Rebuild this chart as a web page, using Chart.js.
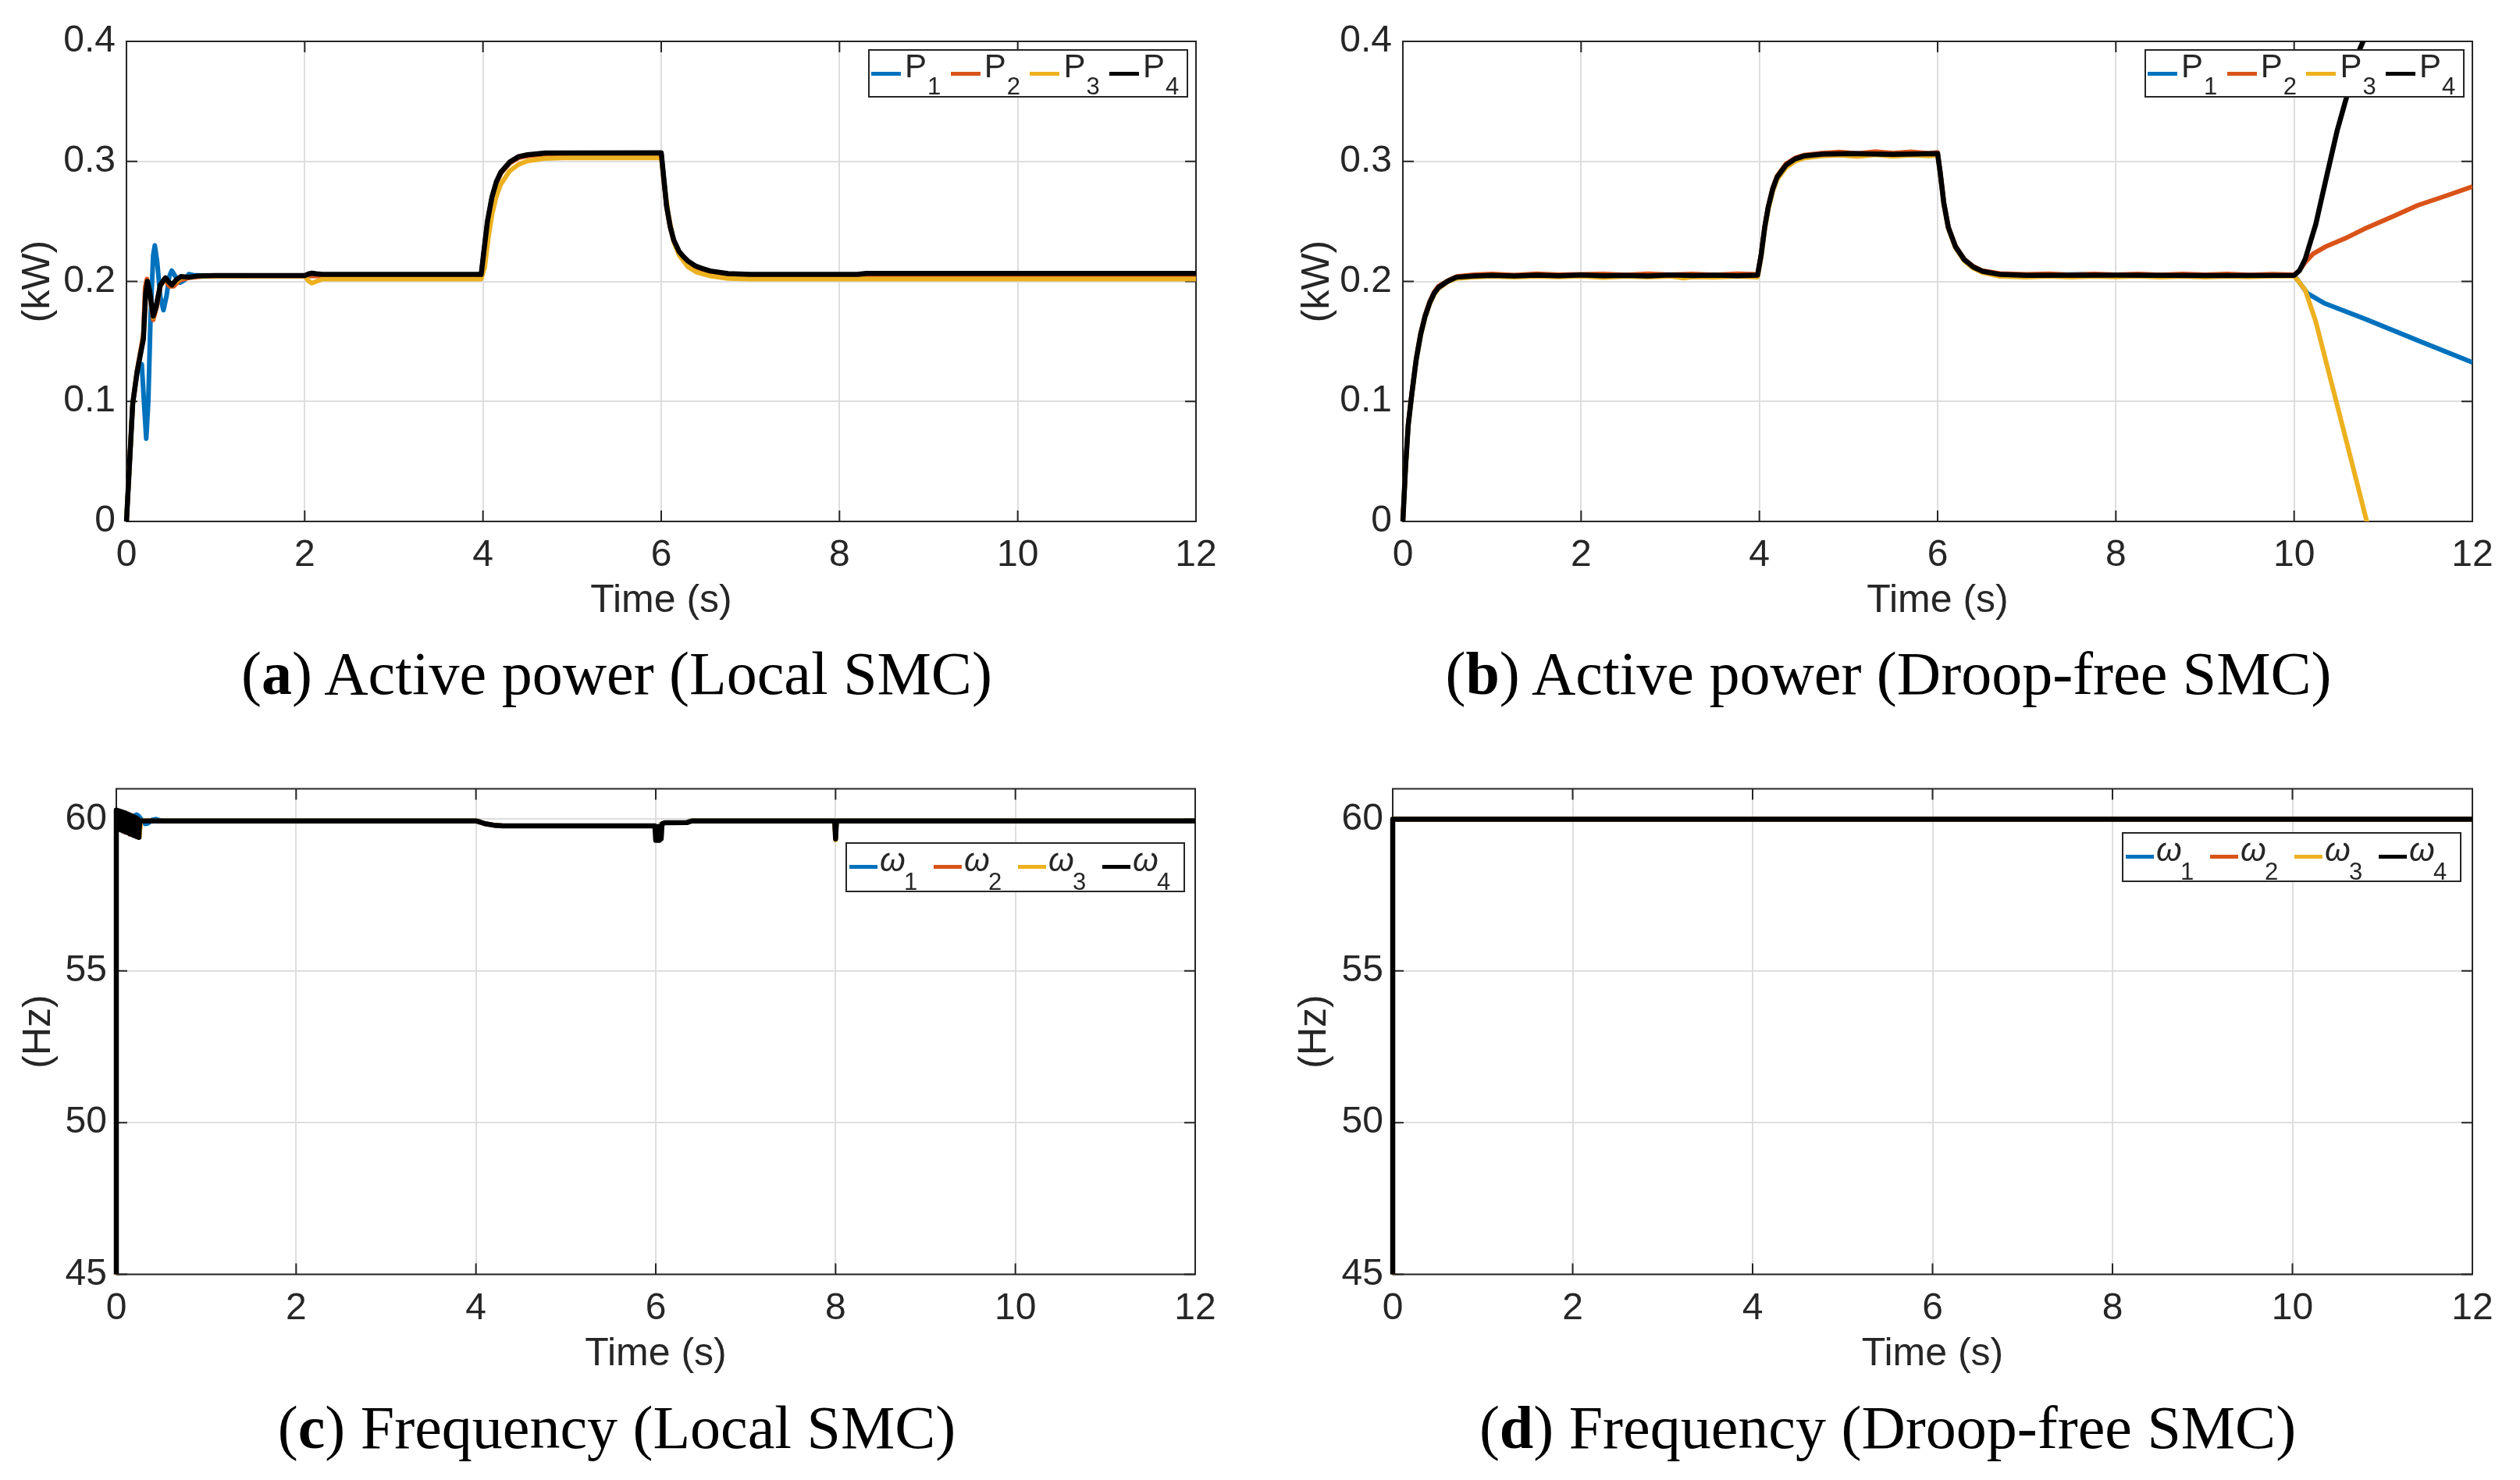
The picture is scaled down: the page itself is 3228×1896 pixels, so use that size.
<!DOCTYPE html>
<html><head><meta charset="utf-8">
<script src="https://cdn.jsdelivr.net/npm/chart.js@4.4.1/dist/chart.umd.min.js"></script>
<style>
html,body{margin:0;padding:0;background:#fff;}
body{width:3228px;height:1896px;position:relative;overflow:hidden;font-family:"Liberation Sans",Arial,sans-serif;}
canvas{position:absolute;}
.cap{position:absolute;width:1600px;text-align:center;font-family:"Liberation Serif","Times New Roman",serif;font-size:78px;line-height:78px;color:#000;white-space:nowrap;}
.leg{position:absolute;border:2px solid #262626;background:#fff;box-sizing:border-box;}
.leg .ln{position:absolute;height:5px;}
.leg .tx{position:absolute;font-size:42px;line-height:42px;color:#262626;white-space:nowrap;}
.leg .sb{position:absolute;font-size:31px;line-height:31px;color:#262626;white-space:nowrap;}
</style></head><body>
<canvas id="ca" width="1614" height="820" style="left:0;top:0"></canvas>
<canvas id="cb" width="1614" height="820" style="left:1614px;top:0"></canvas>
<canvas id="cc" width="1614" height="820" style="left:0;top:948px"></canvas>
<canvas id="cd" width="1614" height="820" style="left:1614px;top:948px"></canvas>
<div class="cap" style="left:-10px;top:824px">(<b>a</b>) Active power (Local SMC)</div>
<div class="cap" style="left:1619px;top:824px">(<b>b</b>) Active power (Droop-free SMC)</div>
<div class="cap" style="left:-10px;top:1790px">(<b>c</b>) Frequency (Local SMC)</div>
<div class="cap" style="left:1618px;top:1790px">(<b>d</b>) Frequency (Droop-free SMC)</div>
<script>
// ---------- tick labels ----------
const xTicks = [0, 2, 4, 6, 8, 10, 12];
const xTickLabels = ['0', '2', '4', '6', '8', '10', '12'];
const yTicksP = [0, 0.1, 0.2, 0.3, 0.4];
const yTickLabelsP = ['0', '0.1', '0.2', '0.3', '0.4'];
const yTicksF = [45, 50, 55, 60];
const yTickLabelsF = ['45', '50', '55', '60'];
const legendP = [['P', '1'], ['P', '2'], ['P', '3'], ['P', '4']];
const legendW = [['\u03c9', '1'], ['\u03c9', '2'], ['\u03c9', '3'], ['\u03c9', '4']];

// ---------- (a) Active power, Local SMC  [t (s), P (kW)] ----------
const P1a = [[0,0],[0.07,0.098],[0.12,0.124],[0.172,0.131],[0.2,0.095],[0.222,0.069],[0.245,0.1],[0.27,0.17],[0.3,0.222],[0.318,0.23],[0.345,0.216],[0.38,0.187],[0.415,0.176],[0.45,0.188],[0.48,0.204],[0.508,0.209],[0.55,0.204],[0.605,0.199],[0.65,0.201],[0.7,0.206],[0.75,0.2052],[0.9,0.2047],[2.0,0.2047],[2.1,0.2048],[3.98,0.2052],[4.01,0.2245],[4.05,0.2495],[4.1,0.2695],[4.15,0.2825],[4.2,0.2905],[4.3,0.299],[4.4,0.3035],[4.5,0.305],[4.7,0.3065],[6.0,0.3067],[6.03,0.2845],[6.06,0.2625],[6.1,0.2455],[6.14,0.2341],[6.2,0.2245],[6.25,0.2201],[6.3,0.2165],[6.38,0.2125],[6.45,0.2105],[6.55,0.2082],[6.75,0.206],[7.0,0.2053],[12,0.2055]];
const P2a = [[0,0],[0.07,0.098],[0.12,0.126],[0.19,0.156],[0.21,0.195],[0.23,0.202],[0.26,0.19],[0.3,0.168],[0.34,0.179],[0.38,0.196],[0.43,0.202],[0.48,0.196],[0.53,0.196],[0.6,0.201],[0.7,0.203],[0.9,0.2045],[2.0,0.2047],[2.1,0.2045],[3.98,0.2046],[4.01,0.224],[4.05,0.249],[4.1,0.269],[4.15,0.282],[4.2,0.29],[4.3,0.2985],[4.4,0.303],[4.5,0.3045],[4.7,0.306],[6.0,0.3062],[6.03,0.284],[6.06,0.262],[6.1,0.245],[6.14,0.2336],[6.2,0.224],[6.25,0.2196],[6.3,0.216],[6.38,0.212],[6.45,0.21],[6.55,0.2077],[6.75,0.2055],[7.0,0.2046],[12,0.2048]];
const P3a = [[0,0],[0.07,0.098],[0.12,0.125],[0.19,0.153],[0.215,0.19],[0.235,0.2],[0.26,0.191],[0.3,0.17],[0.33,0.178],[0.38,0.197],[0.436,0.202],[0.51,0.197],[0.61,0.203],[0.8,0.2043],[2.0,0.2045],[2.04,0.2005],[2.08,0.1985],[2.13,0.2],[2.2,0.202],[3.98,0.202],[4.02,0.212],[4.06,0.236],[4.1,0.255],[4.15,0.271],[4.2,0.281],[4.3,0.292],[4.4,0.2975],[4.5,0.3003],[4.7,0.3025],[4.9,0.303],[6.0,0.303],[6.03,0.283],[6.08,0.256],[6.14,0.233],[6.2,0.222],[6.3,0.212],[6.4,0.2075],[6.55,0.2045],[6.75,0.2025],[7.0,0.202],[12,0.202]];
const P4a = [[0,0],[0.07,0.098],[0.12,0.125],[0.19,0.152],[0.215,0.19],[0.235,0.2],[0.26,0.192],[0.3,0.171],[0.33,0.178],[0.38,0.197],[0.436,0.203],[0.47,0.2],[0.51,0.197],[0.56,0.2015],[0.61,0.204],[0.7,0.2035],[0.8,0.2045],[1.0,0.2048],[2.0,0.2048],[2.04,0.2062],[2.08,0.2068],[2.13,0.2063],[2.2,0.2058],[3.98,0.2058],[4.01,0.225],[4.05,0.25],[4.1,0.27],[4.15,0.283],[4.2,0.291],[4.3,0.2995],[4.4,0.304],[4.5,0.3055],[4.7,0.307],[6.0,0.3072],[6.03,0.285],[6.06,0.263],[6.1,0.246],[6.14,0.2346],[6.2,0.225],[6.25,0.2206],[6.3,0.217],[6.38,0.213],[6.45,0.211],[6.55,0.2087],[6.75,0.2065],[7.0,0.2058],[8.2,0.2058],[8.3,0.2066],[12,0.2066]];

// ---------- (b) Active power, Droop-free SMC ----------
const P1b = [[0,0],[0.03,0.045],[0.06,0.08],[0.1,0.106],[0.15,0.135],[0.2,0.156],[0.25,0.171],[0.3,0.182],[0.35,0.19],[0.4,0.195],[0.5,0.2],[0.6,0.2035],[0.8,0.2048],[1.0,0.2052],[1.5,0.2049],[2.0,0.2054],[2.5,0.2049],[3.0,0.2055],[3.5,0.2049],[3.98,0.2053],[4.02,0.2222],[4.06,0.2452],[4.1,0.2622],[4.15,0.2772],[4.2,0.2872],[4.3,0.2972],[4.4,0.3022],[4.5,0.3048],[4.7,0.3064],[5.0,0.3068],[5.5,0.306],[6.0,0.3066],[6.03,0.29],[6.07,0.265],[6.12,0.245],[6.2,0.229],[6.3,0.218],[6.4,0.212],[6.5,0.2085],[6.7,0.206],[7.0,0.2052],[7.6,0.2058],[8.0,0.2052],[9.0,0.205],[10.0,0.2052],[10.05,0.2],[10.15,0.19],[10.334,0.182],[10.786,0.169],[11.387,0.1508],[12,0.1325]];
const P2b = [[0,0],[0.03,0.046],[0.06,0.081],[0.1,0.107],[0.15,0.136],[0.2,0.157],[0.25,0.172],[0.3,0.183],[0.35,0.191],[0.4,0.196],[0.5,0.2005],[0.6,0.204],[0.8,0.2055],[1.0,0.2062],[1.25,0.2052],[1.5,0.2063],[1.75,0.2055],[2.0,0.2058],[2.25,0.2062],[2.5,0.2053],[2.75,0.2064],[3.0,0.2055],[3.25,0.2062],[3.5,0.2054],[3.75,0.2063],[3.98,0.2058],[4.02,0.223],[4.06,0.246],[4.1,0.263],[4.15,0.278],[4.2,0.288],[4.3,0.298],[4.4,0.3028],[4.5,0.3052],[4.7,0.3068],[4.9,0.3078],[5.1,0.3065],[5.3,0.3082],[5.5,0.3068],[5.7,0.308],[5.9,0.3066],[6.0,0.3075],[6.03,0.2905],[6.07,0.2655],[6.12,0.2455],[6.2,0.2295],[6.3,0.2185],[6.4,0.2125],[6.5,0.209],[6.7,0.2065],[7.0,0.2058],[7.25,0.2063],[7.5,0.2054],[7.75,0.2062],[8.0,0.2056],[8.25,0.2061],[8.5,0.2053],[8.75,0.2062],[9.0,0.2055],[9.25,0.2061],[9.5,0.2054],[9.75,0.206],[10.0,0.2055],[10.06,0.209],[10.125,0.216],[10.21,0.2228],[10.363,0.2293],[10.6,0.2368],[10.786,0.2437],[11.1,0.2538],[11.387,0.2634],[11.7,0.2712],[12,0.279]];
const P3b = [[0,0],[0.03,0.044],[0.06,0.079],[0.1,0.105],[0.15,0.134],[0.2,0.155],[0.25,0.17],[0.3,0.181],[0.35,0.189],[0.4,0.194],[0.5,0.1995],[0.6,0.2025],[0.8,0.2035],[1.0,0.2042],[1.25,0.2035],[1.5,0.2043],[1.75,0.2038],[2.0,0.2044],[2.25,0.2032],[2.5,0.2042],[2.75,0.2036],[3.0,0.2043],[3.15,0.2028],[3.25,0.2038],[3.5,0.2034],[3.75,0.2042],[3.98,0.2036],[4.02,0.22],[4.06,0.243],[4.1,0.26],[4.15,0.275],[4.2,0.285],[4.3,0.295],[4.4,0.3],[4.5,0.3028],[4.7,0.3045],[4.9,0.3052],[5.1,0.304],[5.3,0.3055],[5.5,0.3042],[5.7,0.3052],[5.9,0.3045],[6.0,0.305],[6.03,0.289],[6.07,0.264],[6.12,0.244],[6.2,0.228],[6.3,0.217],[6.4,0.211],[6.5,0.2075],[6.7,0.2042],[7.0,0.2036],[7.25,0.2043],[7.5,0.2035],[7.75,0.2042],[8.0,0.2037],[8.25,0.2044],[8.5,0.2036],[8.75,0.2043],[9.0,0.2035],[9.25,0.2042],[9.5,0.2037],[9.75,0.2044],[10.0,0.2045],[10.05,0.2],[10.125,0.1927],[10.243,0.1665],[10.424,0.114],[10.604,0.0618],[10.815,0],[10.85,-0.01]];
const P4b = [[0,0],[0.03,0.045],[0.06,0.08],[0.1,0.106],[0.15,0.135],[0.2,0.156],[0.25,0.171],[0.3,0.182],[0.35,0.19],[0.4,0.195],[0.5,0.2],[0.6,0.2035],[0.8,0.2045],[1.0,0.205],[1.25,0.2046],[1.5,0.2052],[1.75,0.2047],[2.0,0.2053],[2.25,0.2047],[2.5,0.2051],[2.75,0.2046],[3.0,0.2053],[3.25,0.2048],[3.5,0.2052],[3.75,0.2047],[3.98,0.2052],[4.02,0.222],[4.06,0.245],[4.1,0.262],[4.15,0.277],[4.2,0.287],[4.3,0.297],[4.4,0.302],[4.5,0.3045],[4.7,0.306],[5.0,0.3065],[5.5,0.3058],[6.0,0.3065],[6.03,0.29],[6.07,0.265],[6.12,0.245],[6.2,0.229],[6.3,0.218],[6.4,0.212],[6.5,0.2085],[6.7,0.2058],[7.0,0.205],[8.0,0.2052],[9.0,0.2048],[10.0,0.205],[10.06,0.209],[10.125,0.2188],[10.243,0.2476],[10.363,0.287],[10.484,0.326],[10.604,0.3576],[10.695,0.3864],[10.786,0.402],[10.85,0.42]];

// ---------- (c) Frequency, Local SMC  [t (s), f (Hz)] ----------
const W1c = [[0,44],[0,60.25],[0.02,59.7],[0.05,60.2],[0.08,59.6],[0.11,60.15],[0.14,59.55],[0.17,60.08],[0.2,60.1],[0.225,60.15],[0.25,60.1],[0.28,59.98],[0.32,59.84],[0.35,59.86],[0.4,59.98],[0.44,60.0],[0.5,59.95],[0.55,59.94],[4.0,59.94],[4.1,59.85],[4.2,59.8],[4.3,59.78],[5.99,59.78],[6.01,59.4],[6.05,59.8],[6.1,59.88],[6.35,59.89],[6.4,59.94],[7.99,59.94],[8.0,59.45],[8.01,59.94],[12,59.94]];
const W2c = [[0,44],[0,60.28],[0.03,59.68],[0.06,60.22],[0.09,59.58],[0.12,60.16],[0.15,59.5],[0.18,60.08],[0.21,59.44],[0.24,60.0],[0.255,59.4],[0.27,59.94],[4.0,59.94],[4.1,59.85],[4.2,59.8],[4.3,59.78],[5.99,59.78],[6.02,59.35],[6.06,59.82],[6.1,59.88],[6.35,59.89],[6.4,59.94],[7.99,59.94],[8.0,59.4],[8.01,59.94],[12,59.94]];
const W3c = [[0,44],[0,60.27],[0.03,59.7],[0.06,60.2],[0.09,59.6],[0.12,60.15],[0.15,59.52],[0.18,60.07],[0.21,59.45],[0.24,60.0],[0.255,59.42],[0.27,59.94],[4.0,59.94],[4.1,59.85],[4.2,59.8],[4.3,59.78],[5.99,59.78],[6.02,59.33],[6.06,59.82],[6.1,59.88],[6.35,59.89],[6.4,59.94],[7.99,59.94],[8.0,59.32],[8.01,59.94],[12,59.94]];
const W4c = [[0,44],[0,60.3],[0.01,59.7],[0.02,60.28],[0.03,59.68],[0.04,60.26],[0.05,59.65],[0.06,60.24],[0.07,59.62],[0.08,60.22],[0.09,59.6],[0.1,60.2],[0.11,59.57],[0.12,60.18],[0.13,59.55],[0.14,60.15],[0.15,59.52],[0.16,60.12],[0.17,59.5],[0.18,60.1],[0.19,59.47],[0.2,60.07],[0.21,59.45],[0.22,60.04],[0.23,59.42],[0.24,60.0],[0.25,59.4],[0.26,59.94],[0.3,59.94],[4.0,59.94],[4.05,59.9],[4.1,59.85],[4.2,59.8],[4.3,59.78],[5.99,59.78],[6.0,59.3],[6.01,59.75],[6.02,59.3],[6.03,59.75],[6.04,59.3],[6.05,59.75],[6.06,59.35],[6.07,59.85],[6.1,59.88],[6.35,59.89],[6.4,59.94],[7.99,59.94],[8.0,59.35],[8.01,59.94],[12,59.94]];

// ---------- (d) Frequency, Droop-free SMC ----------
const W1d = [[0,44],[0,60],[12,60]];
const W2d = [[0,44],[0,60],[12,60]];
const W3d = [[0,44],[0,60],[12,60]];
const W4d = [[0,44],[0,60],[12,60]];

const COLORS = ['#0072BD', '#D95319', '#EDB120', '#000000'];
const TXT = '#262626';
Chart.defaults.font.family = '"Liberation Sans", Arial, sans-serif';

const boxPlugin = {
  id: 'mbox',
  beforeDatasetsDraw(chart) {
    const {ctx, chartArea: {left, right, top, bottom}, scales: {x, y}} = chart;
    ctx.save();
    ctx.strokeStyle = TXT; ctx.lineWidth = 2;
    ctx.strokeRect(left, top, right - left, bottom - top);
    const L = 14;
    ctx.beginPath();
    x.ticks.forEach(t => { const p = x.getPixelForValue(t.value); ctx.moveTo(p, bottom); ctx.lineTo(p, bottom - L); ctx.moveTo(p, top); ctx.lineTo(p, top + L); });
    y.ticks.forEach(t => { const p = y.getPixelForValue(t.value); ctx.moveTo(left, p); ctx.lineTo(left + L, p); ctx.moveTo(right, p); ctx.lineTo(right - L, p); });
    ctx.stroke();
    ctx.restore();
  }
};

function makePanel(id, geo, series, names, yTicks, yLabels, yMin, yMax, yTitle) {
  new Chart(document.getElementById(id), {
    type: 'line',
    data: {
      datasets: series.map((s, i) => ({
        label: names[i][0] + names[i][1],
        data: s.map(p => ({x: p[0], y: p[1]})),
        borderColor: COLORS[i], backgroundColor: COLORS[i],
        borderWidth: i === 3 ? 6.5 : 6, pointRadius: 0, tension: 0, fill: false,
        borderJoinStyle: 'round', order: 4 - i,
        clip: {left: 4, right: 0, top: 0, bottom: 0}
      }))
    },
    options: {
      responsive: false, animation: false, devicePixelRatio: 1,
      layout: {padding: {left: 0, top: geo.padTop, right: geo.padRight, bottom: 0}},
      plugins: {legend: {display: false}, tooltip: {enabled: false}},
      scales: {
        x: {
          type: 'linear', min: 0, max: 12,
          afterBuildTicks: s => { s.ticks = xTicks.map(v => ({value: v})); },
          afterFit: s => { s.height = geo.xh; },
          grid: {color: '#dedede', lineWidth: 2, drawTicks: false},
          border: {display: false},
          ticks: {callback: (v, i) => xTickLabels[i], padding: geo.xTickPad, font: {size: 48}, color: TXT, maxRotation: 0, autoSkip: false},
          title: {display: true, text: 'Time (s)', font: {size: 50}, color: TXT, padding: {top: 0, bottom: geo.xTitlePad}}
        },
        y: {
          type: 'linear', min: yMin, max: yMax,
          afterBuildTicks: s => { s.ticks = yTicks.map(v => ({value: v})); },
          afterFit: s => { s.width = geo.yw; },
          grid: {color: '#dedede', lineWidth: 2, drawTicks: false},
          border: {display: false},
          ticks: {callback: (v, i) => yLabels[i], padding: geo.yTickPad, font: {size: 48}, color: TXT, autoSkip: false},
          title: {display: true, text: yTitle, font: {size: 50}, color: TXT, padding: {top: geo.yTitlePad, bottom: 0}}
        }
      }
    },
    plugins: [boxPlugin]
  });
}

function buildLegend(spec, names) {
  const box = document.createElement('div');
  box.className = 'leg';
  Object.assign(box.style, {left: spec.left + 'px', top: spec.top + 'px', width: spec.w + 'px', height: spec.h + 'px'});
  const b = 2;
  names.forEach((n, i) => {
    const dx = i * spec.step;
    const ln = document.createElement('div');
    ln.className = 'ln';
    Object.assign(ln.style, {left: (spec.lineX + dx - b) + 'px', top: (spec.lineY - 2.5 - b) + 'px', width: spec.lineW + 'px', background: COLORS[i]});
    box.appendChild(ln);
    const tx = document.createElement('div');
    tx.className = 'tx';
    tx.textContent = n[0];
    if (spec.italic) tx.style.fontStyle = 'italic';
    Object.assign(tx.style, {left: (spec.txX + dx - b) + 'px', top: (spec.txBase - 0.8465 * 42 - b) + 'px'});
    box.appendChild(tx);
    const sb = document.createElement('div');
    sb.className = 'sb';
    sb.textContent = n[1];
    Object.assign(sb.style, {left: (spec.sbX + dx - b) + 'px', top: (spec.sbBase - 0.8465 * 31 - b) + 'px'});
    box.appendChild(sb);
  });
  document.body.appendChild(box);
}

makePanel('ca', {yw: 162, padTop: 53, padRight: 82, xh: 152, xTickPad: 15, yTickPad: 14, xTitlePad: 20, yTitlePad: 19},
  [P1a, P2a, P3a, P4a], legendP, yTicksP, yTickLabelsP, 0, 0.4, '(kW)');
makePanel('cb', {yw: 183, padTop: 53, padRight: 61, xh: 152, xTickPad: 15, yTickPad: 14, xTitlePad: 20, yTitlePad: 44.6},
  [P1b, P2b, P3b, P4b], legendP, yTicksP, yTickLabelsP, 0, 0.4, '(kW)');
makePanel('cc', {yw: 149, padTop: 62.5, padRight: 83, xh: 135.5, xTickPad: 15, yTickPad: 12, xTitlePad: 2.5, yTitlePad: 20},
  [W1c, W2c, W3c, W4c], legendW, yTicksF, yTickLabelsF, 45, 61, '(Hz)');
makePanel('cd', {yw: 170, padTop: 62.5, padRight: 61, xh: 135.5, xTickPad: 15, yTickPad: 12, xTitlePad: 2.5, yTitlePad: 40.5},
  [W1d, W2d, W3d, W4d], legendW, yTicksF, yTickLabelsF, 45, 61, '(Hz)');

buildLegend({left: 1112, top: 63, w: 410, h: 62, step: 101.7, lineX: 4, lineW: 38, lineY: 31, txX: 47, txBase: 36.3, sbX: 76, sbBase: 58.7}, legendP);
buildLegend({left: 2747, top: 63, w: 410, h: 62, step: 101.7, lineX: 4, lineW: 38, lineY: 31, txX: 47, txBase: 36.3, sbX: 76, sbBase: 58.7}, legendP);
buildLegend({left: 1083, top: 1079, w: 435, h: 64, step: 108, lineX: 5, lineW: 36, lineY: 31, txX: 44, txBase: 38, sbX: 75, sbBase: 61, italic: true}, legendW);
buildLegend({left: 2718, top: 1066, w: 435, h: 64, step: 108, lineX: 5, lineW: 36, lineY: 31, txX: 44, txBase: 38, sbX: 75, sbBase: 61, italic: true}, legendW);
</script>
</body></html>
